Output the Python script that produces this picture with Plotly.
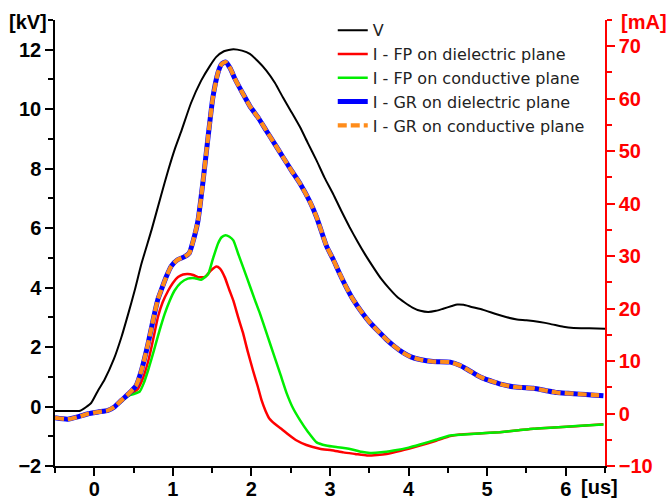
import plotly.graph_objects as go

# ---- data ----
t_v = [-0.5, -0.35, -0.18, -0.04, 0.05, 0.13, 0.25, 0.345, 0.43, 0.514, 0.6, 0.73, 0.85, 0.94,
       1.03, 1.11, 1.23, 1.36, 1.47, 1.55, 1.65, 1.77, 1.88, 1.98, 2.08, 2.19, 2.30, 2.40, 2.51,
       2.62, 2.72, 2.83, 2.93, 3.04, 3.14, 3.25, 3.35, 3.45, 3.55, 3.65, 3.75, 3.85, 3.95, 4.05,
       4.15, 4.25, 4.35, 4.44, 4.55, 4.62, 4.70, 4.80, 4.95, 5.1, 5.25, 5.38, 5.5, 5.67, 5.8,
       5.97, 6.1, 6.3, 6.5]
v_kv = [-0.15, -0.15, -0.14, 0.12, 0.55, 0.9, 1.6, 2.33, 3.1, 3.9, 4.8, 5.95, 7.1, 7.94,
        8.7, 9.28, 10.2, 10.96, 11.45, 11.75, 11.95, 12.02, 11.97, 11.86, 11.62, 11.3, 10.88, 10.4, 9.9,
        9.39, 8.85, 8.27, 7.7, 7.15, 6.6, 6.03, 5.55, 5.1, 4.69, 4.3, 3.98, 3.7, 3.5, 3.33,
        3.22, 3.18, 3.22, 3.29, 3.38, 3.43, 3.42, 3.35, 3.25, 3.12, 3.0, 2.93, 2.9, 2.84, 2.78,
        2.68, 2.64, 2.63, 2.62]

t_fp_d = [-0.5, -0.34, -0.2, -0.08, 0.05, 0.174, 0.26, 0.345, 0.44, 0.556, 0.6, 0.64, 0.69, 0.727,
          0.77, 0.81, 0.87, 0.94, 1.0, 1.066, 1.13, 1.19, 1.26, 1.32, 1.406, 1.48, 1.555, 1.60,
          1.66, 1.72, 1.77, 1.83, 1.89, 1.95, 2.02, 2.08, 2.13, 2.18, 2.23, 2.30, 2.38, 2.47,
          2.57, 2.70, 2.87, 3.02, 3.17, 3.32, 3.47, 3.60, 3.72, 3.9, 4.145, 4.35, 4.53, 4.65,
          4.9, 5.16, 5.4, 5.59, 5.8, 6.01, 6.25, 6.48]
i_fp_d = [-0.8, -1.08, -0.6, -0.05, 0.3, 0.6, 1.3, 2.4, 3.5, 4.7, 6.0, 7.6, 10.2, 12.6,
          15.6, 18.4, 21.2, 23.4, 24.9, 26.0, 26.5, 26.6, 26.4, 26.0, 26.0, 27.2, 28.0, 27.6,
          26.0, 23.5, 21.5, 18.4, 15.5, 12.0, 8.2, 5.2, 2.5, 0.5, -1.0, -2.0, -2.9, -4.0,
          -5.1, -6.0, -6.7, -7.0, -7.4, -7.7, -8.0, -7.9, -7.7, -7.1, -6.1, -5.2, -4.3, -4.0,
          -3.8, -3.55, -3.2, -2.9, -2.7, -2.5, -2.3, -2.05]

t_fp_c = [-0.5, -0.34, -0.2, -0.08, 0.05, 0.174, 0.26, 0.345, 0.44, 0.5, 0.578, 0.63, 0.684, 0.73,
          0.77, 0.83, 0.896, 0.96, 1.02, 1.1, 1.19, 1.28, 1.36, 1.45, 1.51, 1.575, 1.62, 1.67,
          1.72, 1.77, 1.83, 1.94, 2.04, 2.11, 2.2, 2.28, 2.37, 2.45, 2.53, 2.62, 2.72, 2.83,
          2.95, 3.08, 3.2, 3.295, 3.4, 3.51, 3.65, 3.81, 4.0, 4.145, 4.35, 4.53, 4.8, 5.16,
          5.4, 5.59, 5.8, 6.01, 6.25, 6.48]
i_fp_c = [-0.9, -1.1, -0.7, -0.1, 0.2, 0.5, 1.2, 2.3, 3.4, 3.7, 4.2, 5.8, 8.2, 10.5,
          12.6, 15.8, 19.0, 21.5, 23.4, 24.9, 25.7, 25.8, 25.5, 26.6, 29.5, 32.4, 33.6, 34.0,
          33.7, 33.0, 30.5, 26.0, 21.8, 19.0, 15.0, 11.4, 7.4, 3.8, 1.0, -1.3, -3.5, -5.5,
          -6.1, -6.4, -6.6, -6.9, -7.3, -7.5, -7.4, -7.05, -6.5, -5.9, -5.0, -4.2, -3.9, -3.55,
          -3.2, -2.9, -2.7, -2.5, -2.3, -2.1]

t_gr = [-0.5, -0.34, -0.2, -0.08, 0.05, 0.174, 0.26, 0.345, 0.44, 0.535, 0.6, 0.64, 0.684, 0.73,
        0.77, 0.81, 0.854, 0.92, 0.98, 1.06, 1.15, 1.21, 1.257, 1.32, 1.385, 1.448, 1.51, 1.575,
        1.62, 1.67, 1.73, 1.79, 1.89, 1.98, 2.09, 2.19, 2.30, 2.40, 2.51, 2.62, 2.74, 2.83,
        2.956, 3.04, 3.125, 3.21, 3.295, 3.40, 3.51, 3.62, 3.72, 3.82, 3.93, 4.03, 4.145, 4.31,
        4.53, 4.65, 4.76, 4.87, 4.97, 5.08, 5.2, 5.33, 5.45, 5.59, 5.74, 5.886, 6.03, 6.18,
        6.33, 6.48]
i_gr_d = [-0.8, -1.08, -0.6, -0.05, 0.3, 0.6, 1.3, 2.5, 3.8, 5.4, 8.2, 10.5, 13.3, 16.5,
          19.3, 21.8, 23.6, 26.2, 28.1, 29.3, 29.9, 30.6, 32.8, 36.8, 44.4, 52.7, 60.3, 65.0,
          66.6, 67.0, 65.8, 63.8, 61.0, 58.6, 56.3, 53.9, 51.3, 48.9, 46.3, 43.8, 40.5, 37.4,
          31.9, 29.4, 26.6, 24.0, 21.7, 19.4, 17.3, 15.6, 14.1, 12.8, 11.6, 10.8, 10.3, 9.9,
          9.8, 9.2, 8.3, 7.3, 6.6, 6.05, 5.5, 5.1, 4.95, 4.8, 4.4, 4.0, 3.85, 3.7,
          3.55, 3.4]
i_gr_c = list(i_gr_d)

names = ["V", "I - FP on dielectric plane", "I - FP on conductive plane",
         "I - GR on dielectric plane", "I - GR on conductive plane"]

FONT = "Liberation Sans, Arial, sans-serif"
LEGEND_FONT = "DejaVu Sans, Liberation Sans, sans-serif"

fig = go.Figure()
fig.add_trace(go.Scatter(x=t_v, y=v_kv, name=names[0], mode="lines",
                         line=dict(color="black", width=2, shape="spline", smoothing=0.5)))
fig.add_trace(go.Scatter(x=t_fp_d, y=i_fp_d, name=names[1], mode="lines", yaxis="y2",
                         line=dict(color="#ff0000", width=2.5, shape="spline", smoothing=0.5)))
fig.add_trace(go.Scatter(x=t_fp_c, y=i_fp_c, name=names[2], mode="lines", yaxis="y2",
                         line=dict(color="#00ee00", width=2.5, shape="spline", smoothing=0.5)))
fig.add_trace(go.Scatter(x=t_gr, y=i_gr_d, name=names[3], mode="lines", yaxis="y2",
                         line=dict(color="#0000ff", width=5, shape="spline", smoothing=0.5)))
fig.add_trace(go.Scatter(x=t_gr, y=i_gr_c, name=names[4], mode="lines", yaxis="y2",
                         line=dict(color="#ff8c1a", width=4.2, dash="9px,4px",
                                   shape="spline", smoothing=0.5)))

tick_font = dict(size=20, family=FONT, color="black", weight="bold")

fig.update_layout(
    width=668, height=501,
    margin=dict(l=55, r=63, t=20, b=35),
    plot_bgcolor="white", paper_bgcolor="white",
    font=dict(family=FONT, size=16, color="black"),
    showlegend=True,
    legend=dict(x=0.505, y=1.015, xanchor="left", yanchor="top",
                bgcolor="rgba(0,0,0,0)", font=dict(size=16, family=LEGEND_FONT, color="#222"),
                tracegroupgap=0),
    xaxis=dict(range=[-0.5, 6.5], dtick=1, tick0=0, showgrid=False, zeroline=False,
               automargin=False, ticklabelstandoff=-4,
               showline=True, linecolor="black", linewidth=1.5,
               ticks="outside", ticklen=8, tickwidth=1.5, tickcolor="black",
               minor=dict(dtick=0.5, ticks="outside", ticklen=5, tickcolor="black", tickwidth=1.5),
               tickfont=tick_font),
    yaxis=dict(range=[-2, 13], dtick=2, tick0=0, showgrid=False, zeroline=False,
               automargin=False,
               showline=True, linecolor="black", linewidth=1.5,
               ticks="outside", ticklen=8, tickwidth=1.5, tickcolor="black",
               minor=dict(dtick=1, ticks="outside", ticklen=5, tickcolor="black", tickwidth=1.5),
               tickfont=tick_font),
    yaxis2=dict(range=[-10, 75], dtick=10, tick0=0, overlaying="y", side="right",
                showgrid=False, zeroline=False, automargin=False,
                showline=True, linecolor="#ff0000", linewidth=1.5,
                ticks="outside", ticklen=8, tickwidth=1.5, tickcolor="#ff0000",
                minor=dict(dtick=5, ticks="outside", ticklen=5, tickcolor="#ff0000", tickwidth=1.5),
                tickfont=dict(size=20, family=FONT, color="#ff0000", weight="bold")),
    annotations=[
        dict(text="<b>[kV]</b>", xref="paper", yref="paper", x=-0.05, y=0.995,
             xanchor="center", yanchor="middle", showarrow=False,
             font=dict(size=20, family=FONT, color="black")),
        dict(text="<b>[mA]</b>", xref="paper", yref="paper", x=1.07, y=0.995,
             xanchor="center", yanchor="middle", showarrow=False,
             font=dict(size=20, family=FONT, color="#ff0000")),
        dict(text="<b>[us]</b>", xref="paper", yref="paper", x=0.99, y=-0.047,
             xanchor="center", yanchor="middle", showarrow=False,
             font=dict(size=20, family=FONT, color="black")),
    ],
)

fig.write_html("out.html")
